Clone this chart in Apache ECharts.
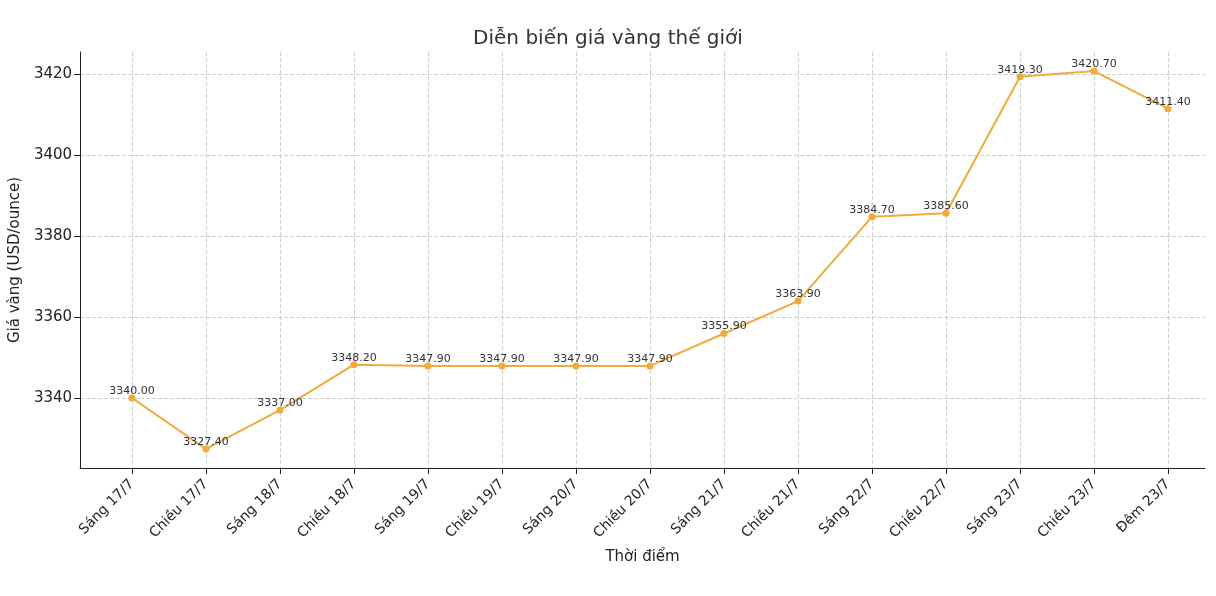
<!DOCTYPE html>
<html><head><meta charset="utf-8">
<script src="https://cdn.jsdelivr.net/npm/echarts@6/dist/echarts.min.js"></script>
<style>html,body{margin:0;background:#fff}#c{width:1216px;height:596px}</style>
</head><body><div id="c"></div>
<script>
const categories=["Sáng 17/7","Chiều 17/7","Sáng 18/7","Chiều 18/7","Sáng 19/7","Chiều 19/7","Sáng 20/7","Chiều 20/7","Sáng 21/7","Chiều 21/7","Sáng 22/7","Chiều 22/7","Sáng 23/7","Chiều 23/7","Đêm 23/7"];
const prices=[3340.00,3327.40,3337.00,3348.20,3347.90,3347.90,3347.90,3347.90,3355.90,3363.90,3384.70,3385.60,3419.30,3420.70,3411.40];
const yTicks=[3340,3360,3380,3400,3420];
const idx=categories.map((_,i)=>i);
const font='DejaVu Sans';
const chart=echarts.init(document.getElementById('c'));
chart.setOption({
 animation:false,
 textStyle:{fontFamily:font},
 title:{text:'Diễn biến giá vàng thế giới',left:'center',top:24,textStyle:{fontFamily:font,fontSize:20,fontWeight:'normal',color:'#333'}},
 grid:{left:78,right:11,top:52,bottom:128},
 xAxis:{type:'value',min:-0.7,max:14.5,name:'Thời điểm',nameLocation:'middle',nameGap:82,
  nameTextStyle:{fontSize:15,color:'#222'},
  axisLine:{onZero:false,lineStyle:{color:'#222'}},
  axisTick:{customValues:idx,length:6,lineStyle:{color:'#222'}},
  axisLabel:{customValues:idx,rotate:45,fontSize:14,color:'#222',margin:14,formatter:v=>categories[Math.round(v)]},
  splitLine:{show:true,lineStyle:{type:'dashed',color:'#d0d0d0'}}},
 yAxis:{type:'value',min:3322.7,max:3425.4,name:'Giá vàng (USD/ounce)',nameLocation:'middle',nameGap:55,
  nameTextStyle:{fontSize:15,color:'#222'},
  axisLine:{show:true,onZero:false,lineStyle:{color:'#222'}},
  axisTick:{show:true,customValues:yTicks,length:6,lineStyle:{color:'#222'}},
  axisLabel:{customValues:yTicks,fontSize:15,color:'#222',formatter:v=>String(v)},
  splitLine:{show:true,lineStyle:{type:'dashed',color:'#d0d0d0'}}},
 series:[{type:'line',data:prices.map((v,i)=>[i,v]),symbol:'circle',symbolSize:7,
  itemStyle:{color:'#f0ab3c'},lineStyle:{color:'#f0ab3c',width:2},
  label:{show:true,position:'top',distance:-2,fontSize:11,color:'#333',formatter:p=>p.value[1].toFixed(2)}}]
});
</script></body></html>
